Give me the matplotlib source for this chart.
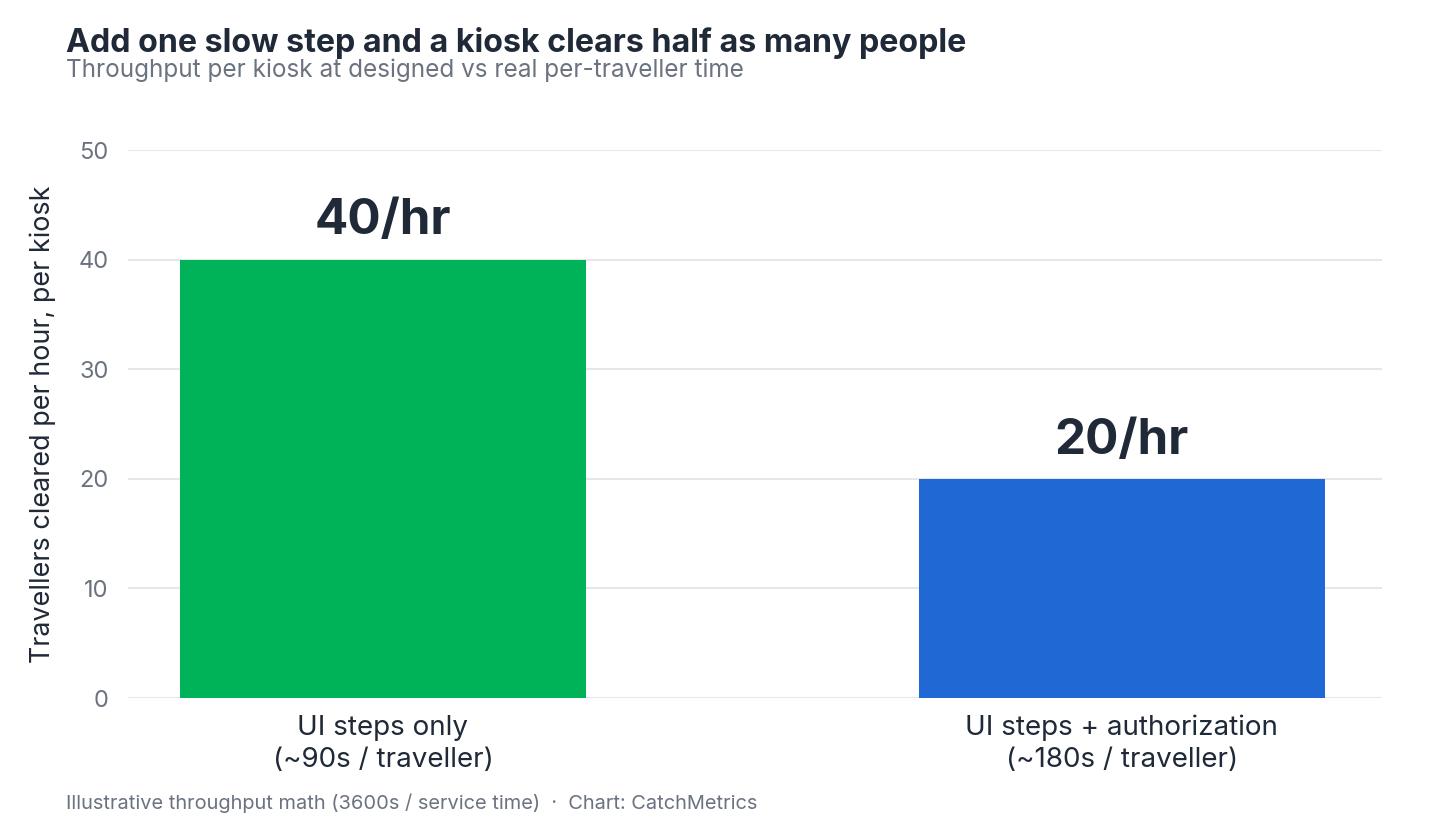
import matplotlib.pyplot as plt

plt.rcParams['font.family'] = ['Inter', 'DejaVu Sans']

# data
categories = ['UI steps only\n(~90s / traveller)', 'UI steps + authorization\n(~180s / traveller)']
throughput = [40, 20]
bar_labels = ['40/hr', '20/hr']
bar_colors = ['#00b359', '#2068d4']
y_ticks = [0, 10, 20, 30, 40, 50]

dark = '#1f2937'
grey = '#6b7280'

fig = plt.figure(figsize=(14.4, 8.32), dpi=100)
ax = fig.add_axes([0.0889, 0.161, 0.8708, 0.6587])

x = list(range(len(categories)))
ax.bar(x, throughput, width=0.55, color=bar_colors, zorder=3)

for xi, v, lab in zip(x, throughput, bar_labels):
    ax.annotate(lab, (xi, v), xytext=(0, 11), textcoords='offset points',
                ha='center', va='bottom', fontsize=35.5, fontweight='bold', color=dark)

ax.set_xlim(-0.345, 1.352)
ax.set_ylim(0, 50)
ax.set_yticks(y_ticks)
ax.set_xticks(x)
ax.set_xticklabels(categories, fontsize=20, color=dark, linespacing=1.3)
ax.tick_params(axis='y', labelsize=17, labelcolor=grey, length=0, pad=14)
ax.tick_params(axis='x', length=0, pad=12)
ax.yaxis.grid(True, color='#e5e7eb', linewidth=1.5, zorder=0)
for s in ax.spines.values():
    s.set_visible(False)
ax.set_ylabel('Travellers cleared per hour, per kiosk', fontsize=19.4, color=dark, labelpad=16)

fig.text(0.0458, 0.948, 'Add one slow step and a kiosk clears half as many people',
         fontsize=23.2, fontweight='bold', color=dark, va='center')
fig.text(0.0458, 0.915, 'Throughput per kiosk at designed vs real per-traveller time',
         fontsize=17.5, color=grey, va='center')
fig.text(0.0458, 0.034, 'Illustrative throughput math (3600s / service time)  \u00b7  Chart: CatchMetrics',
         fontsize=14.4, color=grey, va='center')

fig.savefig('out.png', dpi=100, facecolor='white')
